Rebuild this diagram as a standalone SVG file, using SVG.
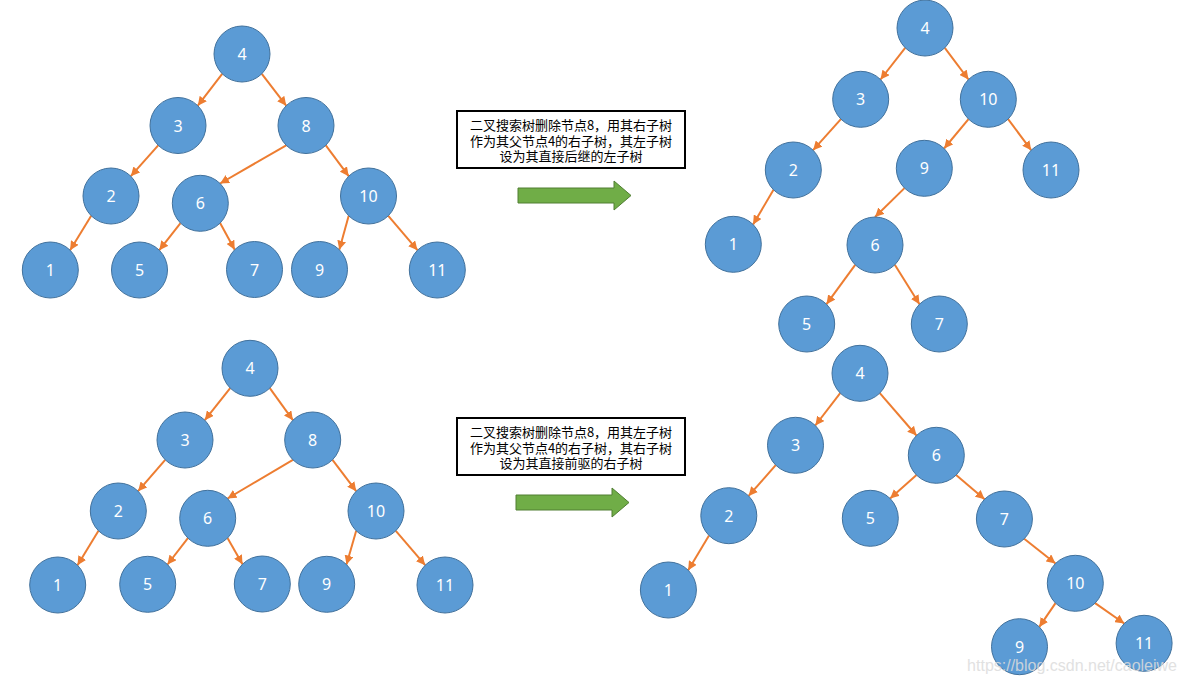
<svg xmlns="http://www.w3.org/2000/svg" width="1185" height="685" viewBox="0 0 1185 685">
<style>
.n circle{fill:#5B9BD5;stroke:#41719C;stroke-width:1}
.n text{fill:#fff;font-family:"Noto Sans","Open Sans",sans-serif;font-size:16px;text-anchor:middle;dominant-baseline:central}
.e line{stroke:#ED7D31;stroke-width:2;marker-end:url(#ah)}
.box rect{fill:#fff;stroke:#000;stroke-width:2}
.box text{fill:#000;font-family:"Noto Sans CJK SC","Noto Sans",sans-serif;font-size:13px;text-anchor:middle}
.arr{fill:#70AD47;stroke:#507E32;stroke-width:1}
</style>
<defs>
<marker id="ah" markerUnits="userSpaceOnUse" markerWidth="10" markerHeight="9" refX="9" refY="4.5" orient="auto">
<path d="M0,0 L9,4.5 L0,9 z" fill="#ED7D31"/>
</marker>
</defs>
<rect width="1185" height="685" fill="#fff"/>
<g id="connectors" class="e">
<!-- top-left -->
<line x1="222.2" y1="73.8" x2="197.8" y2="105.7"/>
<line x1="261.8" y1="73.8" x2="286.2" y2="105.7"/>
<line x1="158.2" y1="145.3" x2="130.8" y2="176.2"/>
<line x1="286.2" y1="145.3" x2="220.1" y2="183.5"/>
<line x1="325.8" y1="145.3" x2="348.7" y2="176.2"/>
<line x1="91.2" y1="215.8" x2="70.1" y2="250.2"/>
<line x1="180.5" y1="223.1" x2="159.3" y2="250.2"/>
<line x1="220.1" y1="223.1" x2="234.7" y2="249.7"/>
<line x1="348.7" y1="215.8" x2="339.3" y2="249.7"/>
<line x1="388.3" y1="215.8" x2="417.5" y2="250.2"/>
<!-- top-right -->
<line x1="905.2" y1="47.8" x2="880.5" y2="79.5"/>
<line x1="944.8" y1="47.8" x2="968.5" y2="79.5"/>
<line x1="840.9" y1="119.1" x2="813.1" y2="150.2"/>
<line x1="968.5" y1="119.1" x2="944.1" y2="148.5"/>
<line x1="1008.1" y1="119.1" x2="1031.2" y2="150.2"/>
<line x1="773.5" y1="189.8" x2="753.1" y2="224.5"/>
<line x1="904.5" y1="188.1" x2="875" y2="217"/>
<line x1="855.2" y1="264.8" x2="826.5" y2="304.2"/>
<line x1="894.8" y1="264.8" x2="919.5" y2="304.2"/>
<!-- bottom-left -->
<line x1="230.2" y1="388.1" x2="204.8" y2="420.2"/>
<line x1="269.8" y1="388.1" x2="292.9" y2="420.2"/>
<line x1="165.2" y1="459.8" x2="138.1" y2="491.2"/>
<line x1="292.9" y1="459.8" x2="227.5" y2="498.5"/>
<line x1="332.5" y1="459.8" x2="356.2" y2="491.2"/>
<line x1="98.5" y1="530.8" x2="77.5" y2="565.2"/>
<line x1="187.9" y1="538.1" x2="167.5" y2="564.5"/>
<line x1="227.5" y1="538.1" x2="242.5" y2="564.2"/>
<line x1="356.2" y1="530.8" x2="346.5" y2="564.5"/>
<line x1="395.8" y1="530.8" x2="425.2" y2="565.2"/>
<!-- bottom-right -->
<line x1="840.2" y1="393.1" x2="815.3" y2="425.5"/>
<line x1="879.8" y1="393.1" x2="916.5" y2="435.5"/>
<line x1="775.7" y1="465.1" x2="748.6" y2="495.9"/>
<line x1="916.5" y1="475.1" x2="890.1" y2="498.5"/>
<line x1="956.1" y1="475.1" x2="984.6" y2="499.2"/>
<line x1="709" y1="535.5" x2="688.2" y2="570.2"/>
<line x1="1024.2" y1="538.8" x2="1055.5" y2="563.5"/>
<line x1="1055.5" y1="603.1" x2="1039.3" y2="626.9"/>
<line x1="1095.1" y1="603.1" x2="1124.3" y2="623.5"/>
</g>
<!-- top-left tree -->
<g id="tl4" class="n"><circle cx="242" cy="54" r="28"/><text x="242" y="54">4</text></g>
<g id="tl3" class="n"><circle cx="178" cy="125.5" r="28"/><text x="178" y="125.5">3</text></g>
<g id="tl8" class="n"><circle cx="306" cy="125.5" r="28"/><text x="306" y="125.5">8</text></g>
<g id="tl2" class="n"><circle cx="111" cy="196" r="28"/><text x="111" y="196">2</text></g>
<g id="tl6" class="n"><circle cx="200.3" cy="203.3" r="28"/><text x="200.3" y="203.3">6</text></g>
<g id="tl10" class="n"><circle cx="368.5" cy="196" r="28"/><text x="368.5" y="196">10</text></g>
<g id="tl1" class="n"><circle cx="50.3" cy="270" r="28"/><text x="50.3" y="270">1</text></g>
<g id="tl5" class="n"><circle cx="139.5" cy="270" r="28"/><text x="139.5" y="270">5</text></g>
<g id="tl7" class="n"><circle cx="254.5" cy="269.5" r="28"/><text x="254.5" y="269.5">7</text></g>
<g id="tl9" class="n"><circle cx="319.5" cy="269.5" r="28"/><text x="319.5" y="269.5">9</text></g>
<g id="tl11" class="n"><circle cx="437.3" cy="270" r="28"/><text x="437.3" y="270">11</text></g>
<!-- top-right tree -->
<g id="tr4" class="n"><circle cx="925" cy="28" r="28"/><text x="925" y="28">4</text></g>
<g id="tr3" class="n"><circle cx="860.7" cy="99.3" r="28"/><text x="860.7" y="99.3">3</text></g>
<g id="tr10" class="n"><circle cx="988.3" cy="99.3" r="28"/><text x="988.3" y="99.3">10</text></g>
<g id="tr2" class="n"><circle cx="793.3" cy="170" r="28"/><text x="793.3" y="170">2</text></g>
<g id="tr9" class="n"><circle cx="924.3" cy="168.3" r="28"/><text x="924.3" y="168.3">9</text></g>
<g id="tr11" class="n"><circle cx="1051" cy="170" r="28"/><text x="1051" y="170">11</text></g>
<g id="tr1" class="n"><circle cx="733.3" cy="244.3" r="28"/><text x="733.3" y="244.3">1</text></g>
<g id="tr6" class="n"><circle cx="875" cy="245" r="28"/><text x="875" y="245">6</text></g>
<g id="tr5" class="n"><circle cx="806.7" cy="324" r="28"/><text x="806.7" y="324">5</text></g>
<g id="tr7" class="n"><circle cx="939.3" cy="324" r="28"/><text x="939.3" y="324">7</text></g>
<!-- bottom-left tree -->
<g id="bl4" class="n"><circle cx="250" cy="368.3" r="28"/><text x="250" y="368.3">4</text></g>
<g id="bl3" class="n"><circle cx="185" cy="440" r="28"/><text x="185" y="440">3</text></g>
<g id="bl8" class="n"><circle cx="312.7" cy="440" r="28"/><text x="312.7" y="440">8</text></g>
<g id="bl2" class="n"><circle cx="118.3" cy="511" r="28"/><text x="118.3" y="511">2</text></g>
<g id="bl6" class="n"><circle cx="207.7" cy="518.3" r="28"/><text x="207.7" y="518.3">6</text></g>
<g id="bl10" class="n"><circle cx="376" cy="511" r="28"/><text x="376" y="511">10</text></g>
<g id="bl1" class="n"><circle cx="57.7" cy="585" r="28"/><text x="57.7" y="585">1</text></g>
<g id="bl5" class="n"><circle cx="147.7" cy="584.3" r="28"/><text x="147.7" y="584.3">5</text></g>
<g id="bl7" class="n"><circle cx="262.3" cy="584" r="28"/><text x="262.3" y="584">7</text></g>
<g id="bl9" class="n"><circle cx="326.7" cy="584.3" r="28"/><text x="326.7" y="584.3">9</text></g>
<g id="bl11" class="n"><circle cx="445" cy="585" r="28"/><text x="445" y="585">11</text></g>
<!-- bottom-right tree -->
<g id="br4" class="n"><circle cx="860" cy="373.3" r="28"/><text x="860" y="373.3">4</text></g>
<g id="br3" class="n"><circle cx="795.5" cy="445.3" r="28"/><text x="795.5" y="445.3">3</text></g>
<g id="br6" class="n"><circle cx="936.3" cy="455.3" r="28"/><text x="936.3" y="455.3">6</text></g>
<g id="br2" class="n"><circle cx="728.8" cy="515.7" r="28"/><text x="728.8" y="515.7">2</text></g>
<g id="br5" class="n"><circle cx="870.3" cy="518.3" r="28"/><text x="870.3" y="518.3">5</text></g>
<g id="br7" class="n"><circle cx="1004.4" cy="519" r="28"/><text x="1004.4" y="519">7</text></g>
<g id="br1" class="n"><circle cx="668.4" cy="590" r="28"/><text x="668.4" y="590">1</text></g>
<g id="br10" class="n"><circle cx="1075.3" cy="583.3" r="28"/><text x="1075.3" y="583.3">10</text></g>
<g id="br9" class="n"><circle cx="1019.5" cy="646.7" r="28"/><text x="1019.5" y="646.7">9</text></g>
<g id="br11" class="n"><circle cx="1144.1" cy="643.3" r="28"/><text x="1144.1" y="643.3">11</text></g>
<!-- text boxes -->
<g id="note1" class="box">
<rect x="457" y="111" width="228" height="57"/>
<text x="571" y="130">二叉搜索树删除节点8，用其右子树</text>
<text x="571" y="145.5">作为其父节点4的右子树，其左子树</text>
<text x="571" y="161">设为其直接后继的左子树</text>
</g>
<g id="note2" class="box">
<rect x="457" y="418" width="228" height="57"/>
<text x="571" y="437">二叉搜索树删除节点8，用其左子树</text>
<text x="571" y="452.5">作为其父节点4的右子树，其右子树</text>
<text x="571" y="468">设为其直接前驱的右子树</text>
</g>
<!-- block arrows -->
<g id="arrow1"><path class="arr" d="M518,188 L614,188 L614,181 L631,195.5 L614,210 L614,203 L518,203 Z"/></g>
<g id="arrow2"><path class="arr" d="M516,495 L612,495 L612,488 L629,502.5 L612,517 L612,510 L516,510 Z"/></g>
<text x="1177" y="671" text-anchor="end" font-family="Liberation Sans,Arial,sans-serif" font-size="16" fill="#dcdcdc" opacity="0.85">https://blog.csdn.net/caoleiwe</text>
</svg>
